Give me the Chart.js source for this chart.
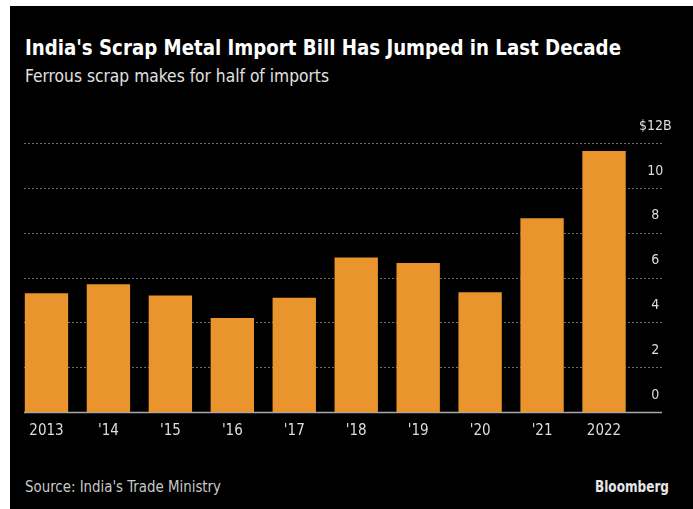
<!DOCTYPE html>
<html>
<head>
<meta charset="utf-8">
<script src="https://cdn.jsdelivr.net/npm/chart.js@4/dist/chart.umd.min.js"></script>
<style>
  body { margin: 0; background: #fff; width: 693px; height: 509px; overflow: hidden; position: relative; }
  #panel { position: absolute; left: 10px; top: 6px; width: 683px; height: 503px; background: #000; }
  .txt { position: absolute; white-space: nowrap; display: inline-block; line-height: 1; transform-origin: left top;
         font-family: "DejaVu Sans Condensed", "DejaVu Sans", sans-serif; }
  #title { left: 25px; top: 38px; font-size: 21px; font-weight: bold; color: #fff; }
  #subtitle { left: 25px; top: 67px; font-size: 18px; color: #e2e2e2; }
  #source { left: 25px; top: 480px; font-size: 15px; color: #c8c8c8; }
  #brand { left: 595px; top: 480px; font-size: 15px; font-weight: bold; color: #e6e6e6; }
  #chart { position: absolute; left: 0; top: 0; }
</style>
</head>
<body>
<div id="panel"></div>
<div class="txt" id="title">India's Scrap Metal Import Bill Has Jumped in Last Decade</div>
<div class="txt" id="subtitle">Ferrous scrap makes for half of imports</div>
<div class="txt" id="source">Source: India's Trade Ministry</div>
<div class="txt" id="brand">Bloomberg</div>
<canvas id="chart" width="693" height="509"></canvas>
<script>
const years = ['2013', "'14", "'15", "'16", "'17", "'18", "'19", "'20", "'21", '2022'];
const importBill = [5.3, 5.7, 5.2, 4.2, 5.1, 6.9, 6.65, 5.35, 8.65, 11.65];
const yTicks = [0, 2, 4, 6, 8, 10, 12];

// squeeze the html texts to the narrow Bloomberg widths
function fitWidth(id, w) {
    const el = document.getElementById(id);
    const cur = el.getBoundingClientRect().width;
    el.style.transform = `scaleX(${w / cur})`;
}
fitWidth('title', 596);
fitWidth('subtitle', 304);
fitWidth('source', 196);
fitWidth('brand', 74);

// dotted gridlines that run past the bars, under the right-hand labels
const gridPlugin = {
    id: 'bbgGrid',
    beforeDatasetsDraw(chart) {
        const ctx = chart.ctx;
        const area = chart.chartArea;
        const y = chart.scales.y;
        const x0 = area.left + 8.5;
        const x1 = area.right + 27;
        ctx.save();
        yTicks.forEach(v => {
            const py = Math.round(y.getPixelForValue(v)) + 0.5;
            ctx.beginPath();
            if (v === 0) {
                ctx.setLineDash([]);
                ctx.strokeStyle = '#a8a8a8';
                ctx.lineWidth = 1.5;
            } else {
                ctx.setLineDash([2, 2]);
                ctx.strokeStyle = 'rgba(160,160,160,0.7)';
                ctx.lineWidth = 1;
            }
            ctx.moveTo(x0, py);
            ctx.lineTo(x1, py);
            ctx.stroke();
        });
        ctx.restore();
    }
};

Chart.defaults.font.family = '"DejaVu Sans Condensed", "DejaVu Sans", sans-serif';

new Chart(document.getElementById('chart'), {
    type: 'bar',
    data: {
        labels: years,
        datasets: [{
            data: importBill,
            backgroundColor: '#e9942c',
            categoryPercentage: 1,
            barPercentage: 0.7
        }]
    },
    options: {
        responsive: false,
        animation: false,
        layout: { padding: { left: 15.5, top: 143.2, right: 0, bottom: 59 } },
        plugins: { legend: { display: false }, tooltip: { enabled: false } },
        scales: {
            x: {
                grid: { display: false, drawTicks: false },
                border: { display: false },
                ticks: { color: '#dddddd', font: { size: 15 }, padding: 10, maxRotation: 0, autoSkip: false }
            },
            y: {
                position: 'right',
                min: 0,
                max: 12,
                grid: { display: false, drawTicks: false },
                border: { display: false },
                afterFit(scale) { scale.width = 58; },
                ticks: {
                    stepSize: 2,
                    color: '#dddddd',
                    font: { size: 14 },
                    padding: 4,
                    crossAlign: 'center',
                    labelOffset: -17,
                    callback: v => v === 12 ? '$12B' : v
                }
            }
        }
    },
    plugins: [gridPlugin]
});
</script>
</body>
</html>
